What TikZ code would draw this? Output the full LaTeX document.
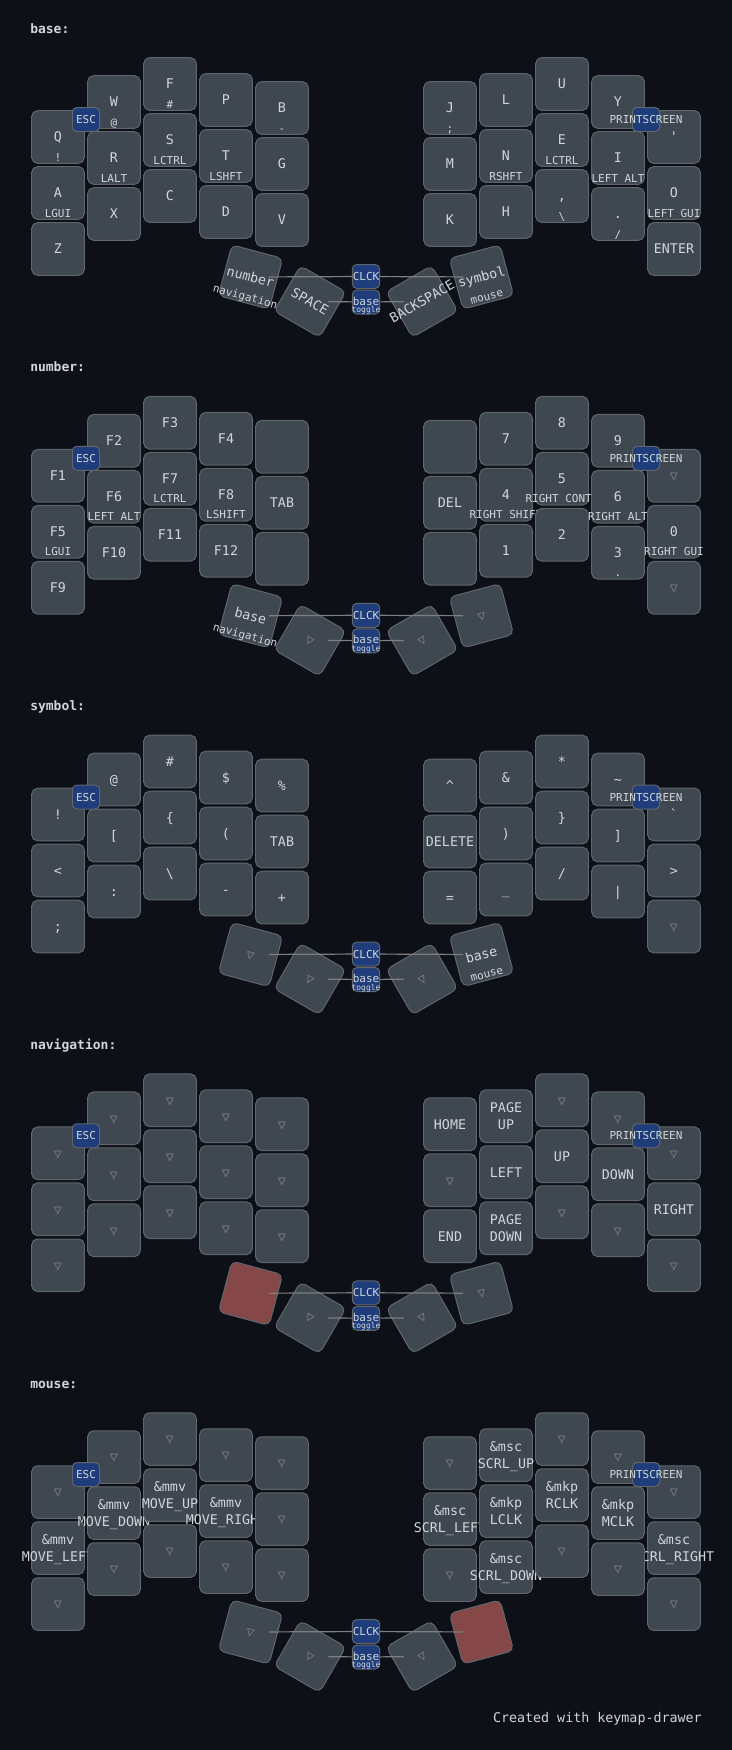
\documentclass[tikz,border=0pt]{standalone}
\usepackage{fontspec}
\setmonofont{DejaVu Sans Mono}

\definecolor{bgcol}{HTML}{0D1117}
\definecolor{keyfill}{HTML}{3F4750}
\definecolor{keyline}{HTML}{60666C}
\definecolor{combofill}{HTML}{1F3D7A}
\definecolor{heldfill}{HTML}{854747}
\definecolor{legend}{HTML}{D1D6DB}
\definecolor{transcol}{HTML}{7B7E81}
\definecolor{wirecol}{HTML}{7F7F7F}

\begin{document}
\begin{tikzpicture}[
  x=0.75pt,
  y=-0.75pt,
  line cap=round,
  line join=round,
  keybox/.style={draw=keyline, fill=keyfill, line width=0.75pt,
    rounded corners=4.2pt, minimum size=39.4pt, inner sep=0pt},
  heldbox/.style={keybox, fill=heldfill},
  tapfont/.style={font=\ttfamily\fontsize{10pt}{12pt}\selectfont,
    text=legend, inner sep=0pt, anchor=base},
  holdfont/.style={font=\ttfamily\fontsize{8.25pt}{10pt}\selectfont,
    text=legend, inner sep=0pt, anchor=base},
  combobox/.style={draw=keyline, fill=combofill, line width=0.75pt,
    rounded corners=3.5pt, minimum width=20.6pt, minimum height=18pt, inner sep=0pt},
  combofont/.style={holdfont},
  togglefont/.style={font=\ttfamily\fontsize{6pt}{7pt}\selectfont,
    text=legend, inner sep=0pt, anchor=base},
  wire/.style={draw=wirecol, line width=0.9pt, shorten >=14pt},
  layertitle/.style={font=\ttfamily\bfseries\fontsize{9.75pt}{12pt}\selectfont,
    text=legend, inner sep=0pt, anchor=base west}
]
  \def\trdown{\textcolor{transcol}{▽}}

  % Клавиша: x, y, основная подпись, подпись удержания
  \def\key#1#2#3#4{%
    \node[keybox] (\lay-#1-#2) at (#1,#2) {};
    \node[tapfont] (\lay-#1-#2-t) at (#1,#2+4.8) {#3};
    \node[holdfont] (\lay-#1-#2-h) at (#1,#2+24) {#4};
  }
  \def\tkey#1#2{\key{#1}{#2}{\trdown}{}}

  % Клавиша с подписью в две строки
  \def\pkey#1#2#3#4{%
    \node[keybox] (\lay-#1-#2) at (#1,#2) {};
    \node[tapfont] (\lay-#1-#2-t) at (#1,#2-3.65) {#3};
    \node[tapfont] (\lay-#1-#2-u) at (#1,#2+13.35) {#4};
  }

  % Повёрнутая клавиша большого пальца
  \def\thumb#1#2#3#4#5#6#7{%
    \begin{scope}[shift={(#2,#3)}, rotate=#4]
      \node[#5, transform shape] (#1) at (0,0) {};
      \node[tapfont, transform shape] (#1-t) at (0,4.8) {#6};
      \node[holdfont, transform shape] (#1-h) at (0,24) {#7};
    \end{scope}
  }

  % Комбинации
  \def\combos{%
    \coordinate (\lay-clck) at (366,276.5);
    \coordinate (\lay-bt) at (366,302);
    \draw[wire] (\lay-clck) -- (\lay-lo.center);
    \draw[wire] (\lay-clck) -- (\lay-ro.center);
    \draw[wire] (\lay-bt) -- (\lay-li.center);
    \draw[wire] (\lay-bt) -- (\lay-ri.center);
    \node[combobox] (\lay-esc) at (86,119.5) {};
    \node[combofont] (\lay-esc-t) at (86,123.5) {ESC};
    \node[combobox] (\lay-prt) at (646,119.5) {};
    \node[combofont] (\lay-prt-t) at (646,123.5) {PRINTSCREEN};
    \node[combobox] (\lay-clck-box) at (\lay-clck) {};
    \node[combofont] (\lay-clck-t) at (366,280.5) {CLCK};
    \node[combobox] (\lay-bt-box) at (\lay-bt) {};
    \node[combofont] (\lay-bt-t) at (366,305) {base};
    \node[togglefont] (\lay-bt-h) at (366,312.5) {toggle};
  }

  % Фон
  \fill[bgcol] (0,0) rectangle (732,1750);
  \useasboundingbox (0,0) rectangle (732,1750);

  % Слой base
  \begin{scope}
    \def\lay{b}
    \node[layertitle] (\lay-title) at (30,33) {base:};
    \key{58}{137}{Q}{!}
    \key{114}{102}{W}{@}
    \key{170}{84}{F}{\#}
    \key{226}{100}{P}{}
    \key{282}{108}{B}{-}
    \key{450}{108}{J}{;}
    \key{506}{100}{L}{}
    \key{562}{84}{U}{}
    \key{618}{102}{Y}{}
    \key{674}{137}{\symbol{39}}{}
    \key{58}{193}{A}{LGUI}
    \key{114}{158}{R}{LALT}
    \key{170}{140}{S}{LCTRL}
    \key{226}{156}{T}{LSHFT}
    \key{282}{164}{G}{}
    \key{450}{164}{M}{}
    \key{506}{156}{N}{RSHFT}
    \key{562}{140}{E}{LCTRL}
    \key{618}{158}{I}{LEFT ALT}
    \key{674}{193}{O}{LEFT GUI}
    \key{58}{249}{Z}{}
    \key{114}{214}{X}{}
    \key{170}{196}{C}{}
    \key{226}{212}{D}{}
    \key{282}{220}{V}{}
    \key{450}{220}{K}{}
    \key{506}{212}{H}{}
    \key{562}{196}{,}{\textbackslash}
    \key{618}{214}{.}{/}
    \key{674}{249}{ENTER}{}
    \thumb{\lay-lo}{250.5}{277}{-15}{keybox}{number}{navigation}
    \thumb{\lay-li}{310}{301.5}{-30}{keybox}{SPACE}{}
    \thumb{\lay-ri}{422}{301.5}{30}{keybox}{BACKSPACE}{}
    \thumb{\lay-ro}{481.5}{277}{15}{keybox}{symbol}{mouse}
    \combos
  \end{scope}

  % Слой number
  \begin{scope}[shift={(0,338.75)}]
    \def\lay{n}
    \node[layertitle] (\lay-title) at (30,33) {number:};
    \key{58}{137}{F1}{}
    \key{114}{102}{F2}{}
    \key{170}{84}{F3}{}
    \key{226}{100}{F4}{}
    \key{282}{108}{}{}
    \key{450}{108}{}{}
    \key{506}{100}{7}{}
    \key{562}{84}{8}{}
    \key{618}{102}{9}{}
    \tkey{674}{137}
    \key{58}{193}{F5}{LGUI}
    \key{114}{158}{F6}{LEFT ALT}
    \key{170}{140}{F7}{LCTRL}
    \key{226}{156}{F8}{LSHIFT}
    \key{282}{164}{TAB}{}
    \key{450}{164}{DEL}{}
    \key{506}{156}{4}{RIGHT SHIFT}
    \key{562}{140}{5}{RIGHT CONTR}
    \key{618}{158}{6}{RIGHT ALT}
    \key{674}{193}{0}{RIGHT GUI}
    \key{58}{249}{F9}{}
    \key{114}{214}{F10}{}
    \key{170}{196}{F11}{}
    \key{226}{212}{F12}{}
    \key{282}{220}{}{}
    \key{450}{220}{}{}
    \key{506}{212}{1}{}
    \key{562}{196}{2}{}
    \key{618}{214}{3}{.}
    \tkey{674}{249}
    \thumb{\lay-lo}{250.5}{277}{-15}{keybox}{base}{navigation}
    \thumb{\lay-li}{310}{301.5}{-30}{keybox}{\trdown}{}
    \thumb{\lay-ri}{422}{301.5}{30}{keybox}{\trdown}{}
    \thumb{\lay-ro}{481.5}{277}{15}{keybox}{\trdown}{}
    \combos
  \end{scope}

  % Слой symbol
  \begin{scope}[shift={(0,677.5)}]
    \def\lay{s}
    \node[layertitle] (\lay-title) at (30,33) {symbol:};
    \key{58}{137}{!}{}
    \key{114}{102}{@}{}
    \key{170}{84}{\#}{}
    \key{226}{100}{\$}{}
    \key{282}{108}{\%}{}
    \key{450}{108}{\textasciicircum}{}
    \key{506}{100}{\&}{}
    \key{562}{84}{*}{}
    \key{618}{102}{\textasciitilde}{}
    \key{674}{137}{\symbol{96}}{}
    \key{58}{193}{<}{}
    \key{114}{158}{[}{}
    \key{170}{140}{\{}{}
    \key{226}{156}{(}{}
    \key{282}{164}{TAB}{}
    \key{450}{164}{DELETE}{}
    \key{506}{156}{)}{}
    \key{562}{140}{\}}{}
    \key{618}{158}{]}{}
    \key{674}{193}{>}{}
    \key{58}{249}{;}{}
    \key{114}{214}{:}{}
    \key{170}{196}{\textbackslash}{}
    \key{226}{212}{-}{}
    \key{282}{220}{+}{}
    \key{450}{220}{=}{}
    \key{506}{212}{\_}{}
    \key{562}{196}{/}{}
    \key{618}{214}{|}{}
    \tkey{674}{249}
    \thumb{\lay-lo}{250.5}{277}{-15}{keybox}{\trdown}{}
    \thumb{\lay-li}{310}{301.5}{-30}{keybox}{\trdown}{}
    \thumb{\lay-ri}{422}{301.5}{30}{keybox}{\trdown}{}
    \thumb{\lay-ro}{481.5}{277}{15}{keybox}{base}{mouse}
    \combos
  \end{scope}

  % Слой navigation
  \begin{scope}[shift={(0,1016.25)}]
    \def\lay{v}
    \node[layertitle] (\lay-title) at (30,33) {navigation:};
    \tkey{58}{137}
    \tkey{114}{102}
    \tkey{170}{84}
    \tkey{226}{100}
    \tkey{282}{108}
    \key{450}{108}{HOME}{}
    \pkey{506}{100}{PAGE}{UP}
    \tkey{562}{84}
    \tkey{618}{102}
    \tkey{674}{137}
    \tkey{58}{193}
    \tkey{114}{158}
    \tkey{170}{140}
    \tkey{226}{156}
    \tkey{282}{164}
    \tkey{450}{164}
    \key{506}{156}{LEFT}{}
    \key{562}{140}{UP}{}
    \key{618}{158}{DOWN}{}
    \key{674}{193}{RIGHT}{}
    \tkey{58}{249}
    \tkey{114}{214}
    \tkey{170}{196}
    \tkey{226}{212}
    \tkey{282}{220}
    \key{450}{220}{END}{}
    \pkey{506}{212}{PAGE}{DOWN}
    \tkey{562}{196}
    \tkey{618}{214}
    \tkey{674}{249}
    \thumb{\lay-lo}{250.5}{277}{-15}{heldbox}{}{}
    \thumb{\lay-li}{310}{301.5}{-30}{keybox}{\trdown}{}
    \thumb{\lay-ri}{422}{301.5}{30}{keybox}{\trdown}{}
    \thumb{\lay-ro}{481.5}{277}{15}{keybox}{\trdown}{}
    \combos
  \end{scope}

  % Слой mouse
  \begin{scope}[shift={(0,1355)}]
    \def\lay{m}
    \node[layertitle] (\lay-title) at (30,33) {mouse:};
    \tkey{58}{137}
    \tkey{114}{102}
    \tkey{170}{84}
    \tkey{226}{100}
    \tkey{282}{108}
    \tkey{450}{108}
    \pkey{506}{100}{\&msc}{SCRL\_UP}
    \tkey{562}{84}
    \tkey{618}{102}
    \tkey{674}{137}
    \pkey{58}{193}{\&mmv}{MOVE\_LEFT}
    \pkey{114}{158}{\&mmv}{MOVE\_DOWN}
    \pkey{170}{140}{\&mmv}{MOVE\_UP}
    \pkey{226}{156}{\&mmv}{MOVE\_RIGHT}
    \tkey{282}{164}
    \pkey{450}{164}{\&msc}{SCRL\_LEFT}
    \pkey{506}{156}{\&mkp}{LCLK}
    \pkey{562}{140}{\&mkp}{RCLK}
    \pkey{618}{158}{\&mkp}{MCLK}
    \pkey{674}{193}{\&msc}{SCRL\_RIGHT}
    \tkey{58}{249}
    \tkey{114}{214}
    \tkey{170}{196}
    \tkey{226}{212}
    \tkey{282}{220}
    \tkey{450}{220}
    \pkey{506}{212}{\&msc}{SCRL\_DOWN}
    \tkey{562}{196}
    \tkey{618}{214}
    \tkey{674}{249}
    \thumb{\lay-lo}{250.5}{277}{-15}{keybox}{\trdown}{}
    \thumb{\lay-li}{310}{301.5}{-30}{keybox}{\trdown}{}
    \thumb{\lay-ri}{422}{301.5}{30}{keybox}{\trdown}{}
    \thumb{\lay-ro}{481.5}{277}{15}{heldbox}{}{}
    \combos
  \end{scope}

  % Подпись
  \node[tapfont, anchor=base east] (credit) at (702,1722) {Created with keymap-drawer};
\end{tikzpicture}
\end{document}
